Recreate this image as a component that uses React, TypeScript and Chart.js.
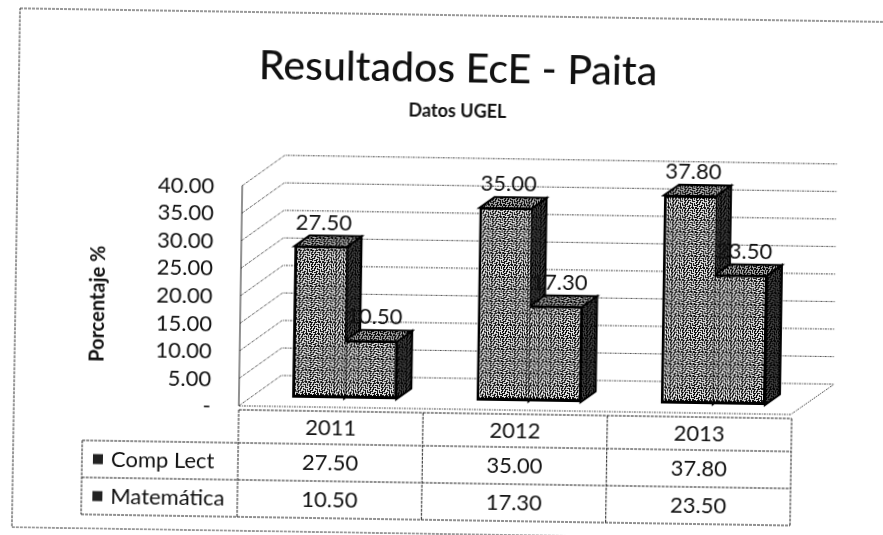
import React, { useEffect, useRef } from "react";
import { Chart, registerables } from "chart.js";

Chart.register(...registerables);

const categories = ["2011", "2012", "2013"];
const compLect = [27.5, 35.0, 37.8];
const matematica = [10.5, 17.3, 23.5];
const seriesNames = ["Comp Lect", "Matemática"];
const titleText = "Resultados EcE - Paita";
const subtitleText = "Datos UGEL";
const yAxisTitle = "Porcentaje %";

const FONT = "Lato, 'Open Sans', sans-serif";
const INK = "#111111";
const DX = 15;
const DY = 11;

const TILE = [
  "##.###.##.##",
  "#..#.....#..",
  "#.##.###.#.#",
  "..#....#.#.#",
  "##.###.#...#",
  "#..#...###..",
  "#.##.#.....#",
  "..#..###.#.#",
  "###....#.#..",
  "#...##.#.###",
  "#.###..#....",
  "....#.###.##",
];

function makePattern(ctx: CanvasRenderingContext2D, dark: number) {
  const tile = document.createElement("canvas");
  tile.width = TILE[0].length;
  tile.height = TILE.length;
  const t = tile.getContext("2d")!;
  t.fillStyle = "#e4e4e4";
  t.fillRect(0, 0, tile.width, tile.height);
  t.fillStyle = "#0c0c0c";
  TILE.forEach((row, y) =>
    row.split("").forEach((c, x) => {
      if (c === "#") t.fillRect(x, y, 1, 1);
    })
  );
  if (dark > 0) {
    t.fillStyle = `rgba(0,0,0,${dark})`;
    t.fillRect(0, 0, tile.width, tile.height);
  }
  return ctx.createPattern(tile, "repeat")!;
}

const scenePlugin = {
  id: "scene",
  beforeDatasetsDraw(chart: any) {
    const { ctx, scales, chartArea } = chart;
    const y = scales.y;
    const wallL = chartArea.left - 13;
    const wallR = chartArea.right - 14;
    const backL = chartArea.left + 29;
    const backR = chartArea.right + 29;
    ctx.save();
    // outer frame of the scan
    ctx.strokeStyle = "#333";
    ctx.lineWidth = 1;
    ctx.setLineDash([3, 1]);
    ctx.strokeRect(16, 15, 900, 519);
    // walls and gridlines
    ctx.strokeStyle = "#444";
    ctx.setLineDash([2, 1, 1, 1]);
    y.ticks.forEach((t: any) => {
      const py = y.getPixelForValue(t.value);
      ctx.beginPath();
      ctx.moveTo(wallL, py + 9);
      ctx.lineTo(backL, py - 22);
      ctx.lineTo(backR, py - 22);
      ctx.stroke();
    });
    const zero = y.getPixelForValue(0);
    ctx.beginPath();
    ctx.moveTo(wallL, zero + 9);
    ctx.lineTo(wallR, zero + 9);
    ctx.lineTo(backR, zero - 22);
    ctx.stroke();
    ctx.setLineDash([]);
    ctx.strokeStyle = "#222";
    ctx.beginPath();
    ctx.moveTo(wallL, y.getPixelForValue(40) + 9);
    ctx.lineTo(wallL, zero + 9);
    ctx.stroke();
    // depth of the bars
    const side = makePattern(ctx, 0.72);
    const top = makePattern(ctx, 0.25);
    chart.data.datasets.forEach((_: any, di: number) => {
      chart.getDatasetMeta(di).data.forEach((bar: any) => {
        const l = bar.x - bar.width / 2;
        const r = bar.x + bar.width / 2;
        const t = bar.y;
        const b = bar.base;
        ctx.strokeStyle = "#000";
        ctx.lineWidth = 2;
        ctx.fillStyle = side;
        ctx.beginPath();
        ctx.moveTo(r, t);
        ctx.lineTo(r + DX, t - DY);
        ctx.lineTo(r + DX, b - DY);
        ctx.lineTo(r, b);
        ctx.closePath();
        ctx.fill();
        ctx.stroke();
        ctx.fillStyle = top;
        ctx.beginPath();
        ctx.moveTo(l, t);
        ctx.lineTo(l + DX, t - DY);
        ctx.lineTo(r + DX, t - DY);
        ctx.lineTo(r, t);
        ctx.closePath();
        ctx.fill();
        ctx.stroke();
      });
    });
    ctx.restore();
  },
  afterDatasetsDraw(chart: any) {
    const { ctx, chartArea } = chart;
    ctx.save();
    ctx.fillStyle = INK;
    ctx.font = `22px ${FONT}`;
    ctx.textAlign = "center";
    ctx.textBaseline = "middle";
    // value labels
    chart.data.datasets.forEach((ds: any, di: number) => {
      chart.getDatasetMeta(di).data.forEach((bar: any, i: number) => {
        ctx.fillText(ds.data[i].toFixed(2), bar.x + 3, bar.y - 24);
      });
    });
    // data table
    const step = (chartArea.right - chartArea.left) / categories.length;
    const tl = chartArea.left - 13;
    const tr = tl + step * categories.length;
    const tableLeft = tl - 156;
    const rowY = [chartArea.bottom + 13, chartArea.bottom + 46, chartArea.bottom + 83, chartArea.bottom + 120];
    ctx.strokeStyle = "#222";
    ctx.lineWidth = 1;
    ctx.setLineDash([3, 1]);
    ctx.beginPath();
    ctx.moveTo(tl, rowY[0]);
    ctx.lineTo(tr, rowY[0]);
    for (let r = 1; r < rowY.length; r++) {
      ctx.moveTo(tableLeft, rowY[r]);
      ctx.lineTo(tr, rowY[r]);
    }
    for (let c = 0; c <= categories.length; c++) {
      ctx.moveTo(tl + step * c, rowY[0]);
      ctx.lineTo(tl + step * c, rowY[3]);
    }
    ctx.moveTo(tableLeft, rowY[1]);
    ctx.lineTo(tableLeft, rowY[3]);
    ctx.stroke();
    ctx.setLineDash([]);
    categories.forEach((cat, c) => {
      const cx = tl + step * (c + 0.5);
      ctx.fillText(cat, cx, (rowY[0] + rowY[1]) / 2);
      chart.data.datasets.forEach((ds: any, di: number) => {
        ctx.fillText(ds.data[c].toFixed(2), cx, (rowY[di + 1] + rowY[di + 2]) / 2);
      });
    });
    seriesNames.forEach((name, di) => {
      const my = (rowY[di + 1] + rowY[di + 2]) / 2;
      ctx.fillStyle = "#222";
      ctx.fillRect(tableLeft + 11, my - 5, 10, 10);
      ctx.fillStyle = INK;
      ctx.textAlign = "left";
      ctx.fillText(name, tableLeft + 29, my);
      ctx.textAlign = "center";
    });
    // vertical axis title
    ctx.translate(99, 309);
    ctx.rotate(-Math.PI / 2);
    ctx.font = `bold 20px ${FONT}`;
    ctx.fillText(yAxisTitle, 0, 0);
    ctx.restore();
  },
};

export default function App() {
  const ref = useRef<HTMLCanvasElement>(null);
  useEffect(() => {
    const canvas = ref.current!;
    const ctx = canvas.getContext("2d")!;
    const face = makePattern(ctx, 0);
    const chart = new Chart(canvas, {
      type: "bar",
      data: {
        labels: categories,
        datasets: [
          {
            label: seriesNames[0],
            data: compLect,
            backgroundColor: face,
            borderColor: "#000",
            borderSkipped: false,
            borderWidth: { top: 2, left: 3, bottom: 3, right: 0 },
          },
          {
            label: seriesNames[1],
            data: matematica,
            backgroundColor: face,
            borderColor: "#000",
            borderSkipped: false,
            borderWidth: { top: 2, left: 0, bottom: 3, right: 2 },
          },
        ],
      },
      options: {
        responsive: false,
        animation: false,
        layout: { padding: { left: 103, right: 76, top: 0, bottom: 135 } },
        datasets: { bar: { barPercentage: 1, categoryPercentage: 0.565 } },
        plugins: {
          legend: { display: false },
          tooltip: { enabled: false },
          title: {
            display: true,
            text: titleText,
            color: INK,
            font: { family: FONT, size: 41, weight: 500 },
            padding: { top: 44, bottom: 7 },
          },
          subtitle: {
            display: true,
            text: subtitleText,
            color: INK,
            font: { family: FONT, size: 18, weight: "bold" },
            padding: { top: 0, bottom: 58 },
          },
        },
        scales: {
          x: { display: false },
          y: {
            min: 0,
            max: 40,
            grid: { display: false },
            border: { display: false },
            afterFit: (s: any) => {
              s.width = 151;
            },
            ticks: {
              stepSize: 5,
              autoSkip: false,
              color: INK,
              font: { family: FONT, size: 22 },
              padding: 33,
              labelOffset: 10,
              callback: (v: any) => (Number(v) === 0 ? "-" : Number(v).toFixed(2)),
            },
          },
        },
      },
      plugins: [scenePlugin],
    } as any);
    return () => chart.destroy();
  }, []);
  return (
    <div style={{ position: "fixed", inset: 0, overflow: "hidden", background: "#fff" }}>
      <canvas
        ref={ref}
        width={883}
        height={535}
        style={{ display: "block", width: 883, height: 535, transform: "rotate(0.9deg)", transformOrigin: "50% 50%" }}
      />
    </div>
  );
}
